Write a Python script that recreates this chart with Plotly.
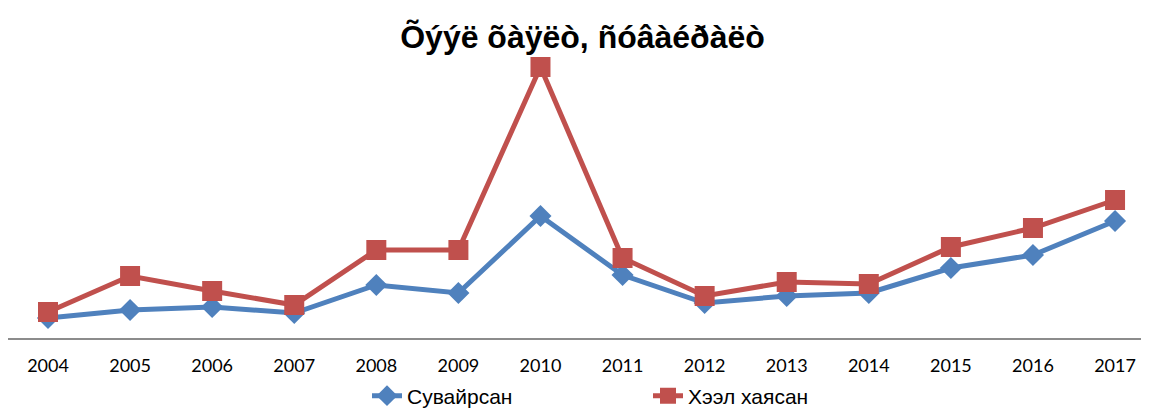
import plotly.graph_objects as go

years = [2004, 2005, 2006, 2007, 2008, 2009, 2010, 2011, 2012, 2013, 2014, 2015, 2016, 2017]
suvairsan = [20, 28, 31, 25, 53, 45, 122, 63, 35, 42, 45, 70, 83, 117]
heel_hayasan = [26, 62, 47, 33, 88, 88, 271, 80, 42, 56, 54, 91, 110, 138]
series_names = ["Сувайрсан", "Хээл хаясан"]
title_text = "Õýýë õàÿëò, ñóâàéðàëò"

W, H = 1149, 420
step = 82.08

fig = go.Figure()
fig.add_trace(go.Scatter(
    x=years, y=suvairsan, name=series_names[0], mode="lines+markers",
    line=dict(color="#4F81BD", width=5),
    marker=dict(symbol="diamond", size=17, color="#4F81BD"),
))
fig.add_trace(go.Scatter(
    x=years, y=heel_hayasan, name=series_names[1], mode="lines+markers",
    line=dict(color="#C0504D", width=5),
    marker=dict(symbol="square", size=20, color="#C0504D"),
))

x0 = 2004 - 40 / step
fig.update_layout(
    width=W, height=H,
    margin=dict(l=0, r=0, t=42, b=H - 330, pad=0),
    paper_bgcolor="white", plot_bgcolor="white",
    title=dict(text=title_text, x=0.5, xanchor="center", y=1 - 29 / H, yanchor="middle",
               yref="container",
               font=dict(family="Liberation Sans, Arial", size=32, color="black", weight="bold")),
    xaxis=dict(range=[x0, x0 + W / step], tickmode="array", tickvals=years,
               ticktext=[str(y) for y in years], showgrid=False, zeroline=False,
               showline=True, linecolor="#8C8C8C", linewidth=2, ticks="",
               ticklabelstandoff=10,
               tickfont=dict(family="Lato, Open Sans", size=18, color="black")),
    yaxis=dict(range=[0, 288], visible=False, showgrid=False, zeroline=False),
    showlegend=True,
    legend=dict(orientation="h", x=359 / W, xanchor="left", y=-58 / 288, yanchor="middle",
                entrywidth=236, entrywidthmode="pixels",
                font=dict(family="Liberation Sans, Arial", size=21, color="black")),
)

fig.write_html("out.html")
